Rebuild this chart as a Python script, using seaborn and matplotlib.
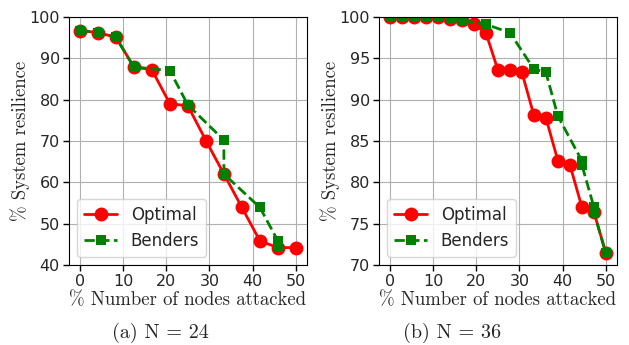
import numpy as np
import pandas as pd
import seaborn as sns
import matplotlib
matplotlib.use("Agg")
import matplotlib.pyplot as plt

# N = 24 network (step of 100/24 % of nodes)
x24_opt = [0, 4.17, 8.33, 12.5, 16.67, 20.83, 25, 29.17, 33.33, 37.5, 41.67, 45.83, 50]
y24_opt = [96.7, 96.2, 95.1, 87.9, 87.2, 79.0, 78.5, 70.1, 62.0, 53.9, 45.8, 44.2, 44.2]
x24_ben = [0, 4.17, 8.33, 12.5, 20.83, 25, 33.33, 33.33, 41.67, 45.83, 45.83]
y24_ben = [96.7, 96.2, 95.1, 87.9, 87.0, 78.7, 70.2, 62.0, 53.9, 45.8, 44.3]

# N = 36 network (step of 100/36 % of nodes)
x36_opt = [0, 2.78, 5.56, 8.33, 11.11, 13.89, 16.67, 19.44, 22.22, 25, 27.78,
           30.56, 33.33, 36.11, 38.89, 41.67, 44.44, 47.22, 50]
y36_opt = [100, 100, 100, 100, 100, 99.8, 99.6, 99.1, 98.1, 93.6, 93.6,
           93.3, 88.1, 87.8, 82.6, 82.1, 77.0, 76.4, 71.4]
x36_ben = [0, 2.78, 5.56, 8.33, 11.11, 13.89, 16.67, 22.22, 27.78, 33.33,
           36.11, 38.89, 44.44, 44.44, 47.22, 47.22, 50]
y36_ben = [100, 100, 100, 100, 100, 99.8, 99.6, 99.1, 98.1, 93.7,
           93.3, 88.0, 82.6, 82.1, 77.0, 76.4, 71.4]

sns.set_style("whitegrid", rc={"axes.edgecolor": "black", "grid.color": "#b0b0b0",
                               "xtick.bottom": True, "ytick.left": True,
                               "axes.linewidth": 1.0})
plt.rcParams["font.family"] = ["DejaVu Sans"]

fig = plt.figure(figsize=(6.29, 3.45), dpi=100)
ax1 = fig.add_axes([0.1097, 0.232, 0.378, 0.719])
ax2 = fig.add_axes([0.6025, 0.232, 0.378, 0.719])

serif = {"family": "cmr10", "size": 13.5}


def draw(ax, xo, yo, xb, yb, ylim, yticks):
    opt = pd.DataFrame({"x": xo, "y": yo})
    ben = pd.DataFrame({"x": xb, "y": yb})
    sns.lineplot(data=opt, x="x", y="y", ax=ax, estimator=None, sort=False,
                 color="red", marker="o", markersize=10, linewidth=2,
                 markeredgewidth=0, label="Optimal")
    sns.lineplot(data=ben, x="x", y="y", ax=ax, estimator=None, sort=False,
                 color="green", marker="s", markersize=7, linewidth=2,
                 linestyle="--", markeredgewidth=0, label="Benders")
    ax.set_xlim(-2.5, 52.5)
    ax.set_ylim(*ylim)
    ax.set_xticks([0, 10, 20, 30, 40, 50])
    ax.set_yticks(yticks)
    ax.tick_params(labelsize=11.5, length=4, width=1, color="black", pad=2.5)
    ax.set_xlabel("% Number of nodes attacked", fontdict=serif, labelpad=2)
    ax.set_ylabel("% System resilience", fontdict=serif, labelpad=-0.5)
    ax.legend(loc="lower left", fontsize=12, framealpha=0.8, edgecolor="#cccccc")


draw(ax1, x24_opt, y24_opt, x24_ben, y24_ben, (40, 100), [40, 50, 60, 70, 80, 90, 100])
draw(ax2, x36_opt, y36_opt, x36_ben, y36_ben, (70, 100), [70, 75, 80, 85, 90, 95, 100])

fig.text(0.2545, 0.034, "(a) N = 24", ha="center", va="center", family="cmr10", size=14.5)
fig.text(0.719, 0.034, "(b) N = 36", ha="center", va="center", family="cmr10", size=14.5)

fig.savefig("out.png", dpi=100)
